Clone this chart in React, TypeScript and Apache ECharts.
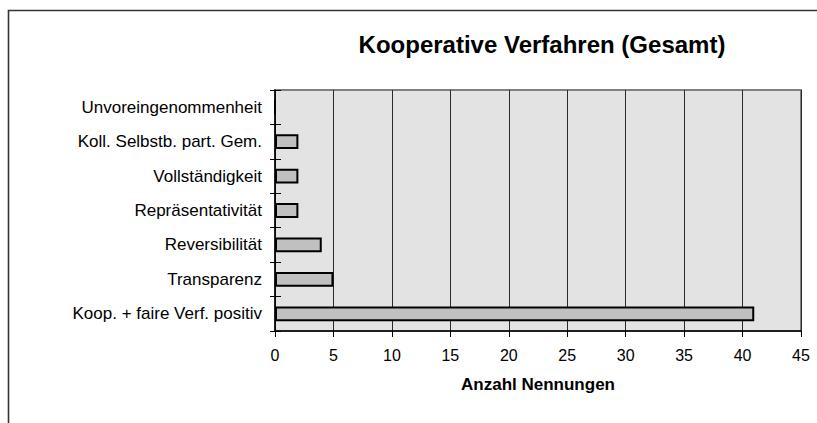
import React, { useEffect, useRef } from "react";
import * as echarts from "echarts";

const categories = [
  "Koop. + faire Verf. positiv",
  "Transparenz",
  "Reversibilität",
  "Repräsentativität",
  "Vollständigkeit",
  "Koll. Selbstb. part. Gem.",
  "Unvoreingenommenheit",
];
const values = [41, 5, 4, 2, 2, 2, 0];
const xMin = 0;
const xMax = 45;
const xInterval = 5;
const titleText = "Kooperative Verfahren (Gesamt)";
const xAxisName = "Anzahl Nennungen";

export default function App() {
  const ref = useRef<HTMLDivElement>(null);
  useEffect(() => {
    if (!ref.current) return;
    const chart = echarts.init(ref.current, undefined, { renderer: "svg" });
    const font = "'Liberation Sans', Arial, Helvetica, sans-serif";
    chart.setOption({
      animation: false,
      backgroundColor: "#ffffff",
      textStyle: { fontFamily: font },
      graphic: [
        {
          type: "rect",
          shape: { x: 8.5, y: 10.5, width: 900, height: 600 },
          style: { fill: "none", stroke: "#333333", lineWidth: 1.6 },
          silent: true,
          z: -1,
        },
        {
          type: "text",
          x: 542,
          y: 44,
          style: {
            text: titleText,
            fontFamily: font,
            fontSize: 24,
            fontWeight: "bold",
            fill: "#000000",
            textAlign: "center",
            textVerticalAlign: "middle",
          },
        },
      ],
      grid: {
        left: 275,
        top: 90,
        width: 526,
        height: 241,
        show: true,
        backgroundColor: "#e3e3e3",
        borderColor: "#808080",
        borderWidth: 2,
        containLabel: false,
      },
      xAxis: {
        type: "value",
        min: xMin,
        max: xMax,
        interval: xInterval,
        name: xAxisName,
        nameLocation: "middle",
        nameGap: 45,
        nameTextStyle: {
          fontFamily: font,
          fontSize: 17,
          fontWeight: "bold",
          color: "#000000",
        },
        axisLine: { show: true, lineStyle: { color: "#000000", width: 1.5 } },
        axisTick: { show: true, length: 6, lineStyle: { color: "#000000", width: 1 } },
        axisLabel: { fontFamily: font, fontSize: 16, color: "#000000", margin: 16 },
        splitLine: { show: true, lineStyle: { color: "#2a2a2a", width: 1 } },
      },
      yAxis: [
        {
          type: "category",
          data: categories,
          axisLine: { show: true, lineStyle: { color: "#000000", width: 1.5 } },
          axisTick: { show: true, length: 5, lineStyle: { color: "#000000", width: 1 } },
          axisLabel: { fontFamily: font, fontSize: 17, color: "#000000", margin: 13 },
          splitLine: { show: false },
        },
        {
          type: "category",
          data: categories,
          position: "left",
          axisLine: { show: false },
          axisTick: { show: true, inside: true, length: 6, lineStyle: { color: "#000000", width: 1 } },
          axisLabel: { show: false },
          splitLine: { show: false },
        },
      ],
      series: [
        {
          type: "bar",
          data: values,
          yAxisIndex: 0,
          barWidth: "43%",
          itemStyle: { color: "#c0c0c0", borderColor: "#000000", borderWidth: 2 },
        },
      ],
    });
    return () => chart.dispose();
  }, []);
  return (
    <div
      ref={ref}
      style={{ position: "fixed", left: 0, top: 0, width: 817, height: 423 }}
    />
  );
}
